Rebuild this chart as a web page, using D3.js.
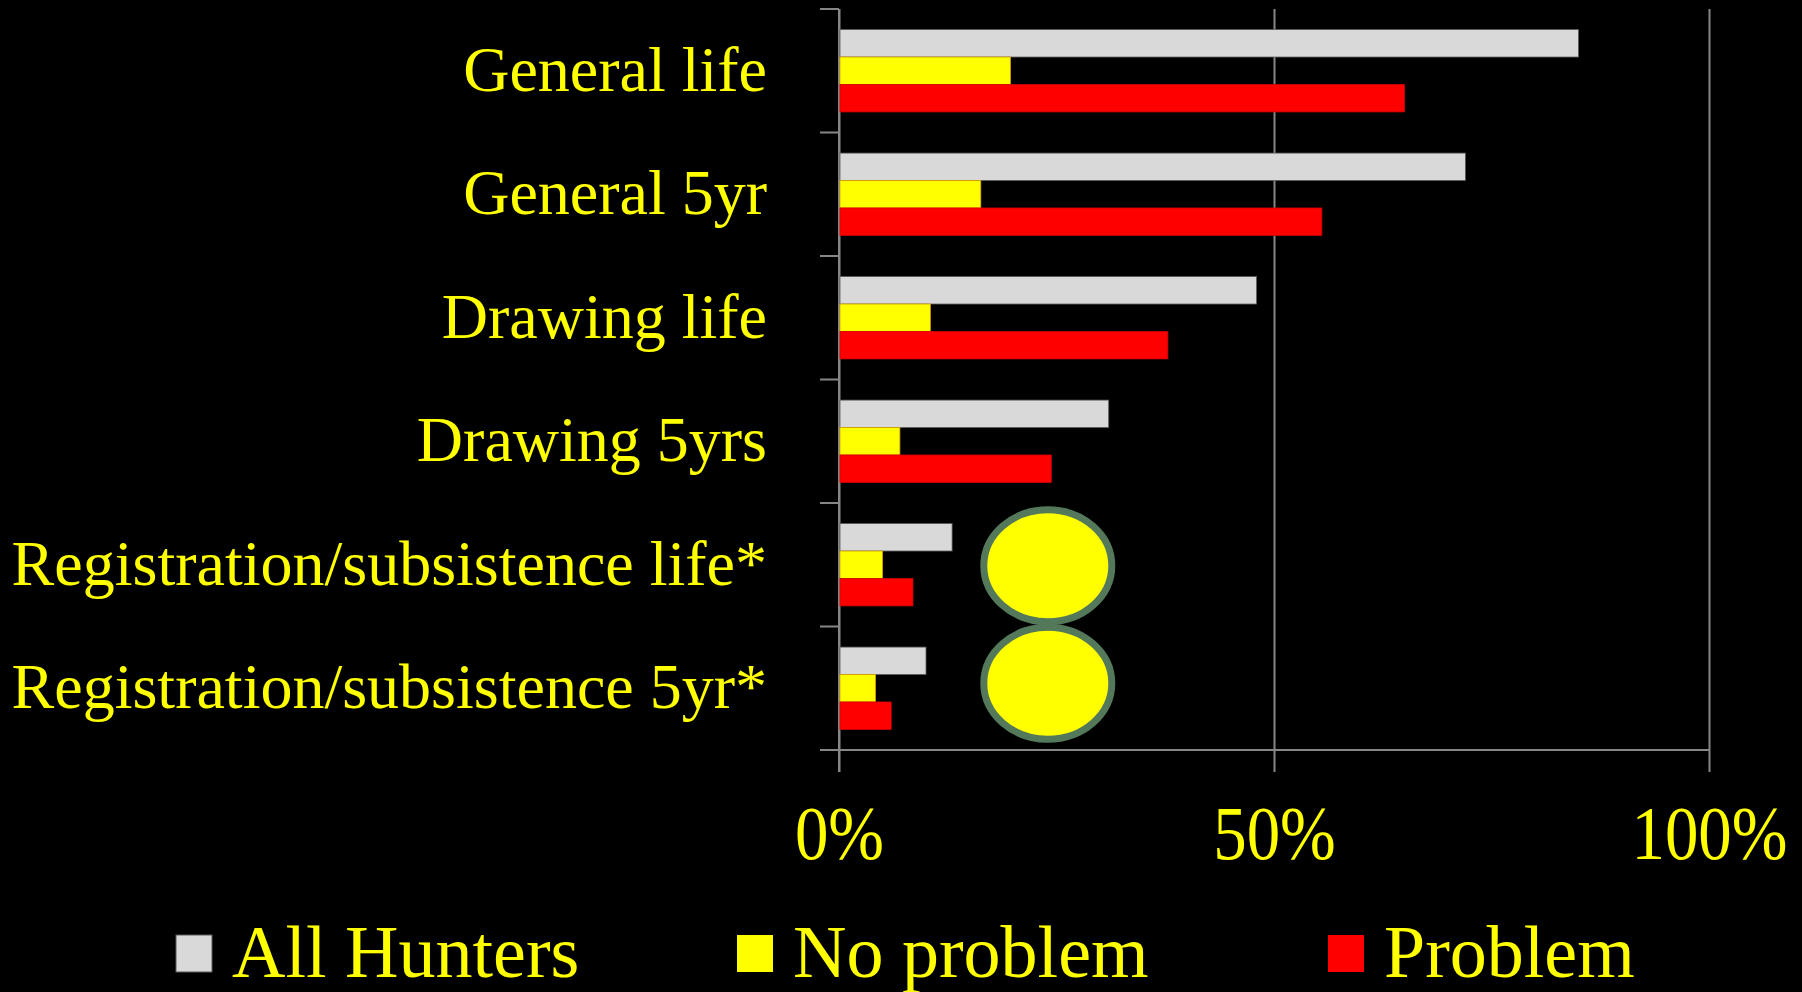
<!DOCTYPE html>
<html>
<head>
<meta charset="utf-8">
<script src="https://cdn.jsdelivr.net/npm/d3@7"></script>
<style>
  html, body { margin: 0; padding: 0; background: #000; }
  svg { display: block; }
  text { font-family: "Liberation Serif", "Times New Roman", serif; fill: #ffff00; }
</style>
</head>
<body>
<div id="chart"></div>
<script>
// ============================================================
// DATA
// ============================================================
const categories = [
  'General life',
  'General 5yr',
  'Drawing life',
  'Drawing 5yrs',
  'Registration/subsistence life*',
  'Registration/subsistence 5yr*'
];
const seriesNames = ['All Hunters', 'No problem', 'Problem'];
const allHunters = [0.85, 0.72, 0.48, 0.31, 0.13, 0.10];
const noProblem  = [0.197, 0.163, 0.105, 0.07, 0.05, 0.042];
const problem    = [0.65, 0.555, 0.378, 0.244, 0.085, 0.06];
const xTicks = [0, 0.5, 1];
// highlight ovals drawn over the last two categories
const highlightCats = ['Registration/subsistence life*', 'Registration/subsistence 5yr*'];
const highlightAt = 0.24;

const colors = { 'All Hunters': '#d9d9d9', 'No problem': '#ffff00', 'Problem': '#ff0000' };
const strokes = { 'All Hunters': '#5a5a5a', 'No problem': '#d8a000', 'Problem': '#d00000' };

// ============================================================
// LAYOUT
// ============================================================
const W = 1802, H = 992;
const plot = { left: 839, right: 1709, top: 9, bottom: 750 };
const axisCol = '#868686';

const svg = d3.select('#chart').append('svg')
  .attr('width', W).attr('height', H);

svg.append('rect').attr('width', W).attr('height', H).attr('fill', '#000');

const x = d3.scaleLinear().domain([0, 1]).range([plot.left, plot.right]);
const y = d3.scaleBand().domain(categories).range([plot.top, plot.bottom]).padding(0);
const gap = y.bandwidth() / 6;   // ~50% gap width
const ySub = d3.scaleBand().domain(seriesNames).range([gap, y.bandwidth() - gap]).padding(0);

const rows = categories.map((c, i) => ({
  cat: c,
  values: [
    { s: 'All Hunters', v: allHunters[i] },
    { s: 'No problem', v: noProblem[i] },
    { s: 'Problem', v: problem[i] }
  ]
}));

// ============================================================
// GRIDLINES + AXES
// ============================================================
const xAxis = d3.axisBottom(x)
  .tickValues(xTicks)
  .tickSize(plot.bottom - plot.top + 22)
  .tickFormat(d3.format('.0%'))
  .tickPadding(32);

const gx = svg.append('g')
  .attr('transform', `translate(0,${plot.top})`)
  .call(xAxis);
gx.select('.domain').remove();
gx.selectAll('.tick line').attr('stroke', axisCol).attr('stroke-width', 2);
gx.selectAll('.tick text')
  .attr('font-size', 76)
  .attr('fill', '#ffff00')
  .attr('dy', '0.72em')
  .each(function() {
    const t = d3.select(this);
    const cy = +t.attr('y');
    t.attr('transform', `translate(0,${cy}) scale(0.88,1) translate(0,${-cy})`);
  });

// category axis (labels + outward ticks)
const yAxis = d3.axisLeft(y).tickSize(0).tickPadding(72);
const gy = svg.append('g')
  .attr('transform', `translate(${plot.left},0)`)
  .call(yAxis);
gy.select('.domain').remove();
gy.selectAll('.tick text')
  .attr('font-size', 64)
  .attr('fill', '#ffff00')
  .attr('dy', '0.31em');

const boundaries = [plot.top].concat(categories.map(c => y(c) + y.bandwidth()));
svg.append('g').selectAll('line')
  .data(boundaries)
  .join('line')
  .attr('x1', plot.left - 19).attr('x2', plot.left)
  .attr('y1', d => d).attr('y2', d => d)
  .attr('stroke', axisCol).attr('stroke-width', 2);

svg.append('line')
  .attr('x1', plot.left).attr('x2', plot.left)
  .attr('y1', plot.top).attr('y2', plot.bottom + 22)
  .attr('stroke', axisCol).attr('stroke-width', 2);
svg.append('line')
  .attr('x1', plot.left - 19).attr('x2', plot.right)
  .attr('y1', plot.bottom).attr('y2', plot.bottom)
  .attr('stroke', axisCol).attr('stroke-width', 2);

// ============================================================
// BARS
// ============================================================
const groups = svg.append('g').selectAll('g')
  .data(rows)
  .join('g')
  .attr('transform', d => `translate(0,${y(d.cat)})`);

groups.selectAll('rect')
  .data(d => d.values)
  .join('rect')
  .attr('x', x(0) + 1)
  .attr('y', d => ySub(d.s))
  .attr('width', d => x(d.v) - x(0) - 1)
  .attr('height', ySub.bandwidth())
  .attr('fill', d => colors[d.s])
  .attr('stroke', d => strokes[d.s])
  .attr('stroke-width', 0.8);

// ============================================================
// HIGHLIGHT OVALS
// ============================================================
// the two ovals sit a little closer together than the band centres
const ovalNudge = [1, -5];
svg.append('g').selectAll('ellipse')
  .data(highlightCats)
  .join('ellipse')
  .attr('cx', x(highlightAt))
  .attr('cy', (d, i) => y(d) + y.bandwidth() / 2 + ovalNudge[i])
  .attr('rx', 64)
  .attr('ry', 56)
  .attr('fill', '#ffff00')
  .attr('stroke', '#54785a')
  .attr('stroke-width', 7);

// ============================================================
// LEGEND
// ============================================================
const legendX = [176, 737, 1328];
const legend = svg.append('g').selectAll('g')
  .data(seriesNames)
  .join('g')
  .attr('transform', (d, i) => `translate(${legendX[i]},935)`);

legend.append('rect')
  .attr('width', 36).attr('height', 37)
  .attr('fill', d => colors[d])
  .attr('stroke', d => d === 'All Hunters' ? '#5a5a5a' : 'none')
  .attr('stroke-width', 1);

legend.append('text')
  .attr('x', 56)
  .attr('y', 42)
  .attr('font-size', 74)
  .text(d => d);
</script>
</body>
</html>
